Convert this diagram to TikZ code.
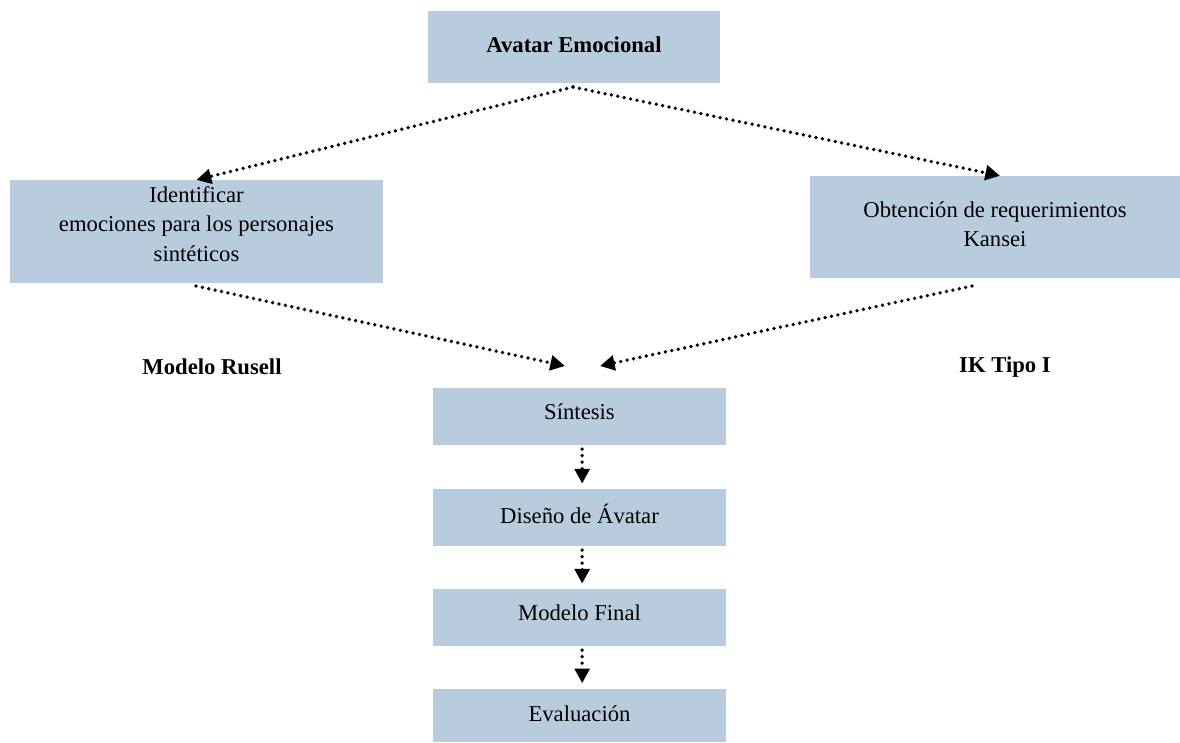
\documentclass[tikz,border=0pt]{standalone}
\usepackage{fontspec}
\setmainfont{Liberation Serif}
\usetikzlibrary{arrows.meta,calc}

\definecolor{boxfill}{RGB}{185,204,221}

\tikzset{
  box/.style={draw=none, fill=boxfill, inner sep=0pt},
  boxtext/.style={font=\fontsize{17}{22}\selectfont, align=center, inner sep=0pt},
  title/.style={font=\fontsize{17}{22}\selectfont\bfseries, inner sep=0pt},
  flow/.style={line width=2.8pt, line cap=round, dash pattern=on 0pt off 4.9pt,
    -{Triangle[length=11pt,width=11pt]}},
}

\begin{document}
\begin{tikzpicture}[x=0.75pt,y=-0.75pt]
\useasboundingbox (0,0) rectangle (1180,742);

% main boxes
\node[box, minimum width=219pt, minimum height=54pt] (top) at (574,47) {};
\node[title] (topT) at (574,45) {Avatar Emocional};

\node[box, minimum width=280pt, minimum height=77pt] (left) at (196.5,231.5) {};
\node[boxtext] (leftT) at (196.5,224) {Identificar\\emociones para los personajes\\sintéticos};

\node[box, minimum width=277.5pt, minimum height=76.5pt] (right) at (995,227) {};
\node[boxtext] (rightT) at (995,224) {Obtención de requerimientos\\Kansei};

% side labels
\node[title] (rusell) at (212,367) {Modelo Rusell};
\node[title] (ik) at (1005,367) {IK Tipo I};

% sequential steps
\node[box, minimum width=219.75pt, minimum height=42.5pt] (s1) at (579.5,416.5) {};
\node[boxtext] (s1T) at (579.5,412) {Síntesis};
\node[box, minimum width=219.75pt, minimum height=42.5pt] (s2) at (579.5,517.5) {};
\node[boxtext] (s2T) at (579.5,514) {Diseño de Ávatar};
\node[box, minimum width=219.75pt, minimum height=42.5pt] (s3) at (579.5,617.5) {};
\node[boxtext] (s3T) at (579.5,613) {Modelo Final};
\node[box, minimum width=219.75pt, minimum height=40pt] (s4) at (579.5,715.5) {};
\node[boxtext] (s4T) at (579.5,714) {Evaluación};

% arrow end points
\coordinate (split) at (573,87);
\coordinate (mergeL) at (565,366);
\coordinate (mergeR) at (600,366);
\coordinate (leftOut) at (196,286);
\coordinate (rightOut) at (972,286);

% connectors
\draw[flow] (split) -- (left.north);
\draw[flow] (split) -- ([xshift=3.75pt]right.north);
\draw[flow] (leftOut) -- (mergeL);
\draw[flow] (rightOut) -- (mergeR);
\draw[flow, shorten <=3pt, shorten >=4pt] ([xshift=2pt]s1.south) -- ([xshift=2pt]s2.north);
\draw[flow, shorten <=3pt, shorten >=4pt] ([xshift=2pt]s2.south) -- ([xshift=2pt]s3.north);
\draw[flow, shorten <=3pt, shorten >=4pt] ([xshift=2pt]s3.south) -- ([xshift=2pt]s4.north);
\end{tikzpicture}
\end{document}
